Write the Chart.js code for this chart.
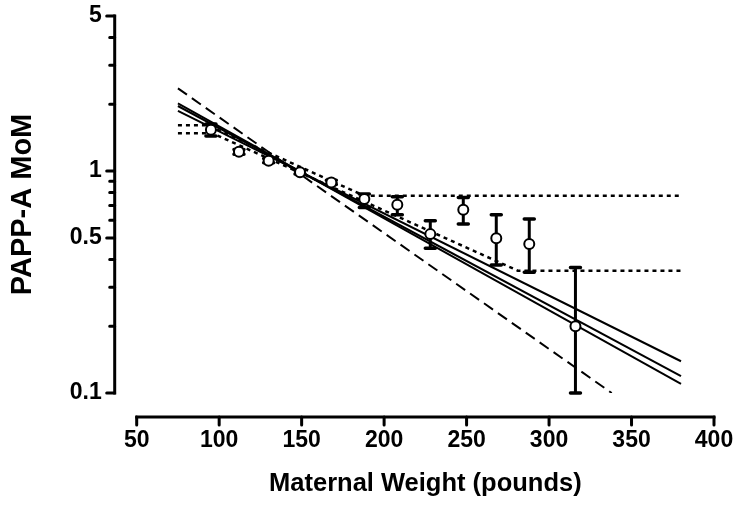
<!DOCTYPE html>
<html>
<head>
<meta charset="utf-8">
<script src="https://cdn.jsdelivr.net/npm/chart.js@4.4.1/dist/chart.umd.min.js"></script>
<style>
  html, body { margin: 0; padding: 0; background: #fff; }
  #wrap { width: 738px; height: 505px; }
</style>
</head>
<body>
<div id="wrap"><canvas id="chart"></canvas></div>
<script>
//Ticks
const xTicks = [50, 100, 150, 200, 250, 300, 350, 400];
const yMajor = [0.1, 0.5, 1, 5];
const yMinor = [0.2, 0.3, 0.4, 0.6, 0.7, 0.8, 0.9, 2, 3, 4];

//Binned medians with error bars
const weight = [95, 112, 130, 149, 168, 188, 208, 228, 248, 268, 288, 316];
const mom    = [1.535, 1.222, 1.113, 0.987, 0.889, 0.748, 0.705, 0.520, 0.669, 0.498, 0.469, 0.200];
const momLo  = [1.44, 1.19, 1.09, 0.97, 0.87, 0.686, 0.636, 0.449, 0.577, 0.377, 0.350, 0.100];
const momHi  = [1.63, 1.25, 1.14, 1.01, 0.91, 0.788, 0.766, 0.597, 0.761, 0.636, 0.608, 0.368];

//Regression lines (straight on log axis, so two ends each)
const fitX  = [75, 380];
const fitA  = [2.02, 0.110];
const fitB  = [1.87, 0.139];
const fitC  = [1.965, 0.119];
const dashX = [75, 338];
const dashY = [2.36, 0.1];

//Truncated fits
const truncUpX = [75, 93, 188, 380];
const truncUpY = [1.61, 1.61, 0.774, 0.774];
const truncLoX = [75, 96, 281, 380];
const truncLoY = [1.48, 1.48, 0.356, 0.356];

function pts(xs, ys) {
    return xs.map((x, i) => ({x: x, y: ys[i]}));
}

function lineSet(xs, ys, dash, width) {
    return {
        data: pts(xs, ys),
        showLine: true,
        borderColor: '#000',
        borderWidth: width,
        borderDash: dash,
        pointRadius: 0
    };
}

// prism style axes: detached from the plot area
const prismAxes = {
    id: 'prismAxes',
    beforeDatasetDraw(chart, args) {
        if (args.index !== 0) return;
        const ctx = chart.ctx, xs = chart.scales.x, ys = chart.scales.y;
        ctx.save();
        ctx.strokeStyle = '#000';
        weight.forEach((w, i) => {
            const px = xs.getPixelForValue(w);
            const top = ys.getPixelForValue(momHi[i]);
            const bot = ys.getPixelForValue(momLo[i]);
            ctx.lineWidth = 3;
            ctx.lineCap = 'butt';
            ctx.beginPath();
            ctx.moveTo(px, top);
            ctx.lineTo(px, bot);
            ctx.stroke();
            ctx.lineWidth = 3.5;
            ctx.lineCap = 'round';
            ctx.beginPath();
            ctx.moveTo(px - 5, top); ctx.lineTo(px + 5, top);
            ctx.moveTo(px - 5, bot); ctx.lineTo(px + 5, bot);
            ctx.stroke();
        });
        ctx.restore();
    },
    afterDraw(chart) {
        const ctx = chart.ctx, xs = chart.scales.x, ys = chart.scales.y, a = chart.chartArea;
        const axX = a.left - 22;
        const axY = a.bottom + 24;
        ctx.save();
        ctx.strokeStyle = '#000';
        ctx.lineWidth = 3;
        ctx.lineCap = 'square';
        // y axis
        ctx.beginPath();
        ctx.moveTo(axX, ys.getPixelForValue(yMajor[yMajor.length - 1]));
        ctx.lineTo(axX, ys.getPixelForValue(yMajor[0]));
        ctx.stroke();
        ctx.lineCap = 'round';
        ctx.beginPath();
        yMajor.forEach(v => {
            const py = ys.getPixelForValue(v);
            ctx.moveTo(axX, py); ctx.lineTo(axX - 8, py);
        });
        yMinor.forEach(v => {
            const py = ys.getPixelForValue(v);
            ctx.moveTo(axX, py); ctx.lineTo(axX - 5, py);
        });
        ctx.stroke();
        // x axis
        ctx.lineCap = 'square';
        ctx.beginPath();
        ctx.moveTo(xs.getPixelForValue(xTicks[0]), axY);
        ctx.lineTo(xs.getPixelForValue(xTicks[xTicks.length - 1]), axY);
        ctx.stroke();
        ctx.lineCap = 'round';
        ctx.beginPath();
        xTicks.forEach(v => {
            const px = xs.getPixelForValue(v);
            ctx.moveTo(px, axY); ctx.lineTo(px, axY + 8);
        });
        ctx.stroke();
        ctx.restore();
    }
};

Chart.defaults.font.family = "'Liberation Sans', Arial, sans-serif";
Chart.defaults.color = '#000';

const chart = new Chart(document.getElementById('chart').getContext('2d'), {
    type: 'scatter',
    data: {
        datasets: [
            {
                data: pts(weight, mom),
                showLine: false,
                pointRadius: 5,
                pointBorderWidth: 2,
                pointBackgroundColor: '#fff',
                pointBorderColor: '#000'
            },
            lineSet(fitX, fitA, [], 2),
            lineSet(fitX, fitB, [], 2),
            lineSet(fitX, fitC, [], 2),
            lineSet(dashX, dashY, [11, 6], 2),
            lineSet(truncUpX, truncUpY, [4, 4], 2.5),
            lineSet(truncLoX, truncLoY, [4, 4], 2.5)
        ]
    },
    options: {
        responsive: true,
        maintainAspectRatio: false,
        animation: false,
        layout: {padding: {left: 0, right: 24, top: 16, bottom: 0}},
        plugins: {
            legend: {display: false},
            tooltip: {enabled: false}
        },
        scales: {
            x: {
                type: 'linear',
                min: 50,
                max: 400,
                afterBuildTicks: s => { s.ticks = xTicks.map(v => ({value: v})); },
                afterFit: s => {
                    s.height = 112;
                    s.paddingLeft = 0;
                    s.paddingRight = 0;
                },
                border: {display: false},
                grid: {display: false, drawTicks: false, tickLength: 0},
                ticks: {
                    padding: 34,
                    maxRotation: 0,
                    autoSkip: false,
                    font: {size: 23, weight: 'bold'}
                },
                title: {
                    display: true,
                    text: 'Maternal Weight (pounds)',
                    font: {size: 25.5, weight: 'bold'},
                    padding: {top: 0, bottom: 6}
                }
            },
            y: {
                type: 'logarithmic',
                min: 0.1,
                max: 5,
                afterBuildTicks: s => { s.ticks = yMajor.map(v => ({value: v})); },
                afterFit: s => {
                    s.width = 136.7;
                    s.paddingTop = 0;
                    s.paddingBottom = 0;
                },
                border: {display: false},
                grid: {display: false, drawTicks: false, tickLength: 0},
                ticks: {
                    padding: 35,
                    font: {size: 23, weight: 'bold'},
                    callback: v => String(v)
                },
                title: {
                    display: true,
                    text: 'PAPP-A MoM',
                    font: {size: 29, weight: 'bold'},
                    padding: {top: 6, bottom: 0}
                }
            }
        }
    },
    plugins: [prismAxes]
});
</script>
</body>
</html>
